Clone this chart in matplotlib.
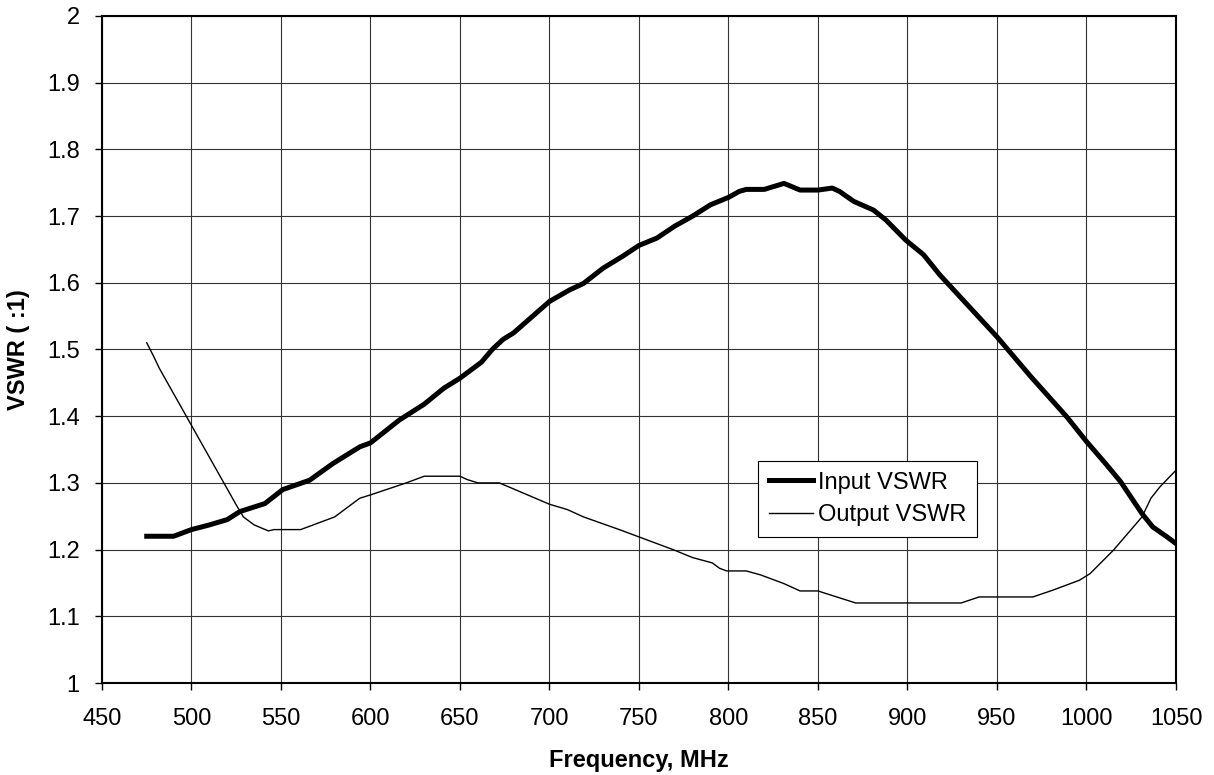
import matplotlib.pyplot as plt

# Input VSWR (thick curve)
freq_in = [475, 490, 500, 510, 520, 527, 541, 551, 566, 579, 594, 600, 616, 630,
           641, 650, 662, 668, 674, 680, 700, 711, 719, 730, 741, 750, 760, 770,
           780, 790, 800, 806, 810, 820, 831, 840, 850, 858, 862, 870, 881, 888,
           899, 909, 918, 950, 969, 989, 1000, 1010, 1019, 1031, 1037, 1045, 1050]
vswr_in = [1.22, 1.22, 1.23, 1.237, 1.245, 1.257, 1.269, 1.29, 1.304, 1.329, 1.354,
           1.36, 1.394, 1.418, 1.442, 1.457, 1.481, 1.50, 1.515, 1.525, 1.572, 1.589,
           1.599, 1.622, 1.64, 1.656, 1.667, 1.685, 1.70, 1.717, 1.728, 1.737, 1.74,
           1.74, 1.749, 1.739, 1.739, 1.742, 1.737, 1.722, 1.709, 1.694, 1.664,
           1.642, 1.612, 1.519, 1.459, 1.399, 1.362, 1.331, 1.302, 1.254, 1.234,
           1.219, 1.209]

# Output VSWR (thin curve)
freq_out = [475, 479, 482, 525, 529, 535, 543, 546, 561, 580, 594, 600, 620, 630,
            650, 654, 660, 672, 700, 710, 719, 739, 751, 769, 780, 791, 795, 799,
            810, 818, 831, 840, 850, 871, 930, 940, 970, 981, 996, 1002, 1015, 1031,
            1036, 1041, 1050]
vswr_out = [1.51, 1.489, 1.472, 1.267, 1.249, 1.237, 1.228, 1.23, 1.23, 1.249, 1.277,
            1.282, 1.30, 1.31, 1.31, 1.305, 1.30, 1.30, 1.268, 1.26, 1.249, 1.23,
            1.218, 1.20, 1.188, 1.18, 1.172, 1.168, 1.168, 1.162, 1.149, 1.138,
            1.138, 1.12, 1.12, 1.129, 1.129, 1.139, 1.154, 1.164, 1.199, 1.249,
            1.277, 1.294, 1.319]

x_ticks = list(range(450, 1051, 50))
y_ticks = [1, 1.1, 1.2, 1.3, 1.4, 1.5, 1.6, 1.7, 1.8, 1.9, 2]
y_labels = ['1', '1.1', '1.2', '1.3', '1.4', '1.5', '1.6', '1.7', '1.8', '1.9', '2']

plt.rcParams['font.family'] = ['Liberation Sans', 'DejaVu Sans']

fig = plt.figure(figsize=(12.14, 7.75), dpi=100)
ax = fig.add_axes([0.084, 0.1187, 0.8847, 0.8607])

ax.plot(freq_in, vswr_in, color='black', lw=3.6, label='Input VSWR', zorder=3)
ax.plot(freq_out, vswr_out, color='black', lw=1.0, label='Output VSWR', zorder=3)

ax.set_xlim(450, 1050)
ax.set_ylim(1, 2)
ax.set_xticks(x_ticks)
ax.set_yticks(y_ticks)
ax.set_yticklabels(y_labels)
ax.tick_params(labelsize=17, length=5, width=1, direction='out', color='black')
ax.tick_params(axis='x', pad=13)
ax.tick_params(axis='y', pad=11)
ax.grid(True, color='#333333', lw=0.8, zorder=0)
for sp in ax.spines.values():
    sp.set_linewidth(1.5)
    sp.set_color('black')

ax.set_xlabel('Frequency, MHz', fontsize=17, fontweight='bold', labelpad=14)
ax.set_ylabel('VSWR ( :1)', fontsize=17, fontweight='bold', labelpad=12)

leg = ax.legend(loc='lower left', bbox_to_anchor=(0.611, 0.219), fontsize=17,
                frameon=True, fancybox=False, handlelength=1.85, handletextpad=0.25,
                borderpad=0.45, labelspacing=0.45, borderaxespad=0)
leg.get_frame().set_edgecolor('black')
leg.get_frame().set_linewidth(0.8)
leg.get_frame().set_alpha(1)

fig.savefig('out.png', dpi=100)
